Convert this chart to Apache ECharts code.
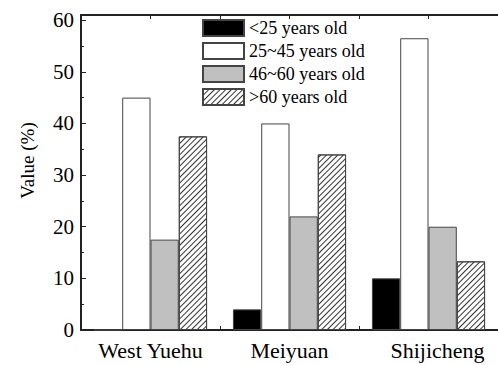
<!DOCTYPE html>
<html>
<head>
<meta charset="utf-8">
<script src="https://cdn.jsdelivr.net/npm/echarts@6/dist/echarts.min.js"></script>
<style>
  html, body { margin: 0; padding: 0; background: #fff; }
  #chart { width: 498px; height: 365px; }
</style>
</head>
<body>
<div id="chart"></div>
<script>
// Share of residents by age group in three communities
const categories = ['West Yuehu', 'Meiyuan', 'Shijicheng'];
const ageGroups = ['<25 years old', '25~45 years old', '46~60 years old', '>60 years old'];
const under25 = [0, 4, 10];
const age25to45 = [45, 40, 56.5];
const age46to60 = [17.5, 22, 20];
const over60 = [37.5, 34, 13.3];
const yTicks = [0, 10, 20, 30, 40, 50, 60];

const FONT = 'Liberation Serif';
const AXIS_COLOR = '#222';
const EDGE = '#444';

const chart = echarts.init(document.getElementById('chart'), null, { renderer: 'svg' });

function barSeries(name, values, fill, decal) {
  const s = {
    name: name,
    type: 'bar',
    data: values,
    barGap: '0%',
    barCategoryGap: '18.6%',
    itemStyle: { color: fill, borderColor: EDGE, borderWidth: 1 }
  };
  if (decal) s.itemStyle.decal = decal;
  return s;
}

// forward-slash hatching for the oldest group
const hatch = {
  symbol: 'rect',
  symbolSize: 1,
  color: '#333',
  dashArrayX: [1, 0],
  dashArrayY: [1, 2.2],
  rotation: -Math.PI / 4
};

chart.setOption({
  animation: false,
  backgroundColor: '#fff',
  textStyle: { fontFamily: FONT, color: '#000' },
  grid: { left: 81, right: -3, top: 15, bottom: 35, containLabel: false },
  legend: {
    orient: 'vertical',
    left: 202,
    top: 19,
    itemWidth: 41,
    itemHeight: 16,
    itemGap: 5,
    padding: 0,
    icon: 'rect',
    selectedMode: false,
    textStyle: { fontFamily: FONT, fontSize: 18, color: '#000', lineHeight: 16 },
    data: ageGroups
  },
  xAxis: [
    {
      type: 'category',
      data: categories.map((c, i) => i === 2
        ? { value: c, textStyle: { padding: [0, 0, 0, 18] } }
        : c),
      boundaryGap: true,
      axisLine: { show: true, onZero: false, lineStyle: { color: AXIS_COLOR, width: 2 } },
      axisTick: { show: true, inside: true, length: 4, lineStyle: { color: AXIS_COLOR, width: 1 } },
      axisLabel: { fontFamily: FONT, fontSize: 22, color: '#000', margin: 9 }
    },
    {
      type: 'category',
      position: 'top',
      data: ['', '', '', '', '', ''],
      boundaryGap: true,
      axisLine: { show: true, onZero: false, lineStyle: { color: AXIS_COLOR, width: 2 } },
      axisTick: { show: true, inside: true, length: 4, lineStyle: { color: AXIS_COLOR, width: 1 } },
      axisLabel: { show: false }
    }
  ],
  yAxis: {
    type: 'value',
    min: 0,
    max: 61,
    interval: 10,
    name: 'Value (%)',
    nameLocation: 'middle',
    nameRotate: 90,
    nameGap: 44,
    nameTextStyle: { fontFamily: FONT, fontSize: 19, color: '#000', padding: [0, 0, 0, 24] },
    axisLine: { show: true, lineStyle: { color: AXIS_COLOR, width: 2 } },
    axisTick: { show: true, inside: true, length: 5, lineStyle: { color: AXIS_COLOR, width: 1 } },
    minorTick: { show: true, splitNumber: 2, length: 3, lineStyle: { color: AXIS_COLOR, width: 1 } },
    splitLine: { show: false },
    axisLabel: {
      fontFamily: FONT, fontSize: 21, color: '#000', margin: 7,
      showMaxLabel: false,
      formatter: v => (yTicks.indexOf(v) >= 0 ? String(v) : '')
    }
  },
  series: [
    barSeries(ageGroups[0], under25, '#000000'),
    barSeries(ageGroups[1], age25to45, '#ffffff'),
    barSeries(ageGroups[2], age46to60, '#c0c0c0'),
    barSeries(ageGroups[3], over60, '#ffffff', hatch)
  ]
});
</script>
</body>
</html>
